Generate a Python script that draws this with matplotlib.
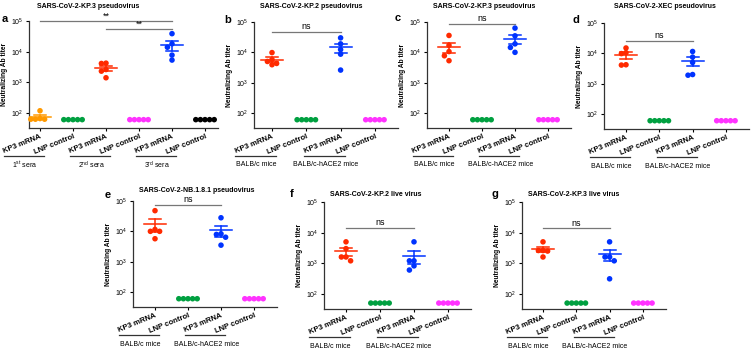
import numpy as np
import matplotlib.pyplot as plt
from matplotlib.transforms import blended_transform_factory

plt.rcParams['font.family'] = ['Liberation Sans', 'DejaVu Sans']
plt.rcParams['mathtext.fontset'] = 'custom'
plt.rcParams['mathtext.rm'] = 'Liberation Sans'

# ---------------- data (titers) ----------------
a_ticklabels = ["KP3 mRNA", "LNP control", "KP3 mRNA", "LNP control", "KP3 mRNA", "LNP control"]
a_groups = ["1$^{\\rm st}$ sera", "2$^{\\rm nd}$ sera", "3$^{\\rm rd}$ sera"]
a_kp3_1st = [117, 65, 62, 62, 62]
a_lnp_1st = [60, 60, 60, 60, 60]
a_kp3_2nd = [4200, 4100, 2600, 2300, 1400]
a_lnp_2nd = [60, 60, 60, 60, 60]
a_kp3_3rd = [38600, 18000, 13900, 7700, 5300]
a_lnp_3rd = [60, 60, 60, 60, 60]

mice_ticklabels = ["KP3 mRNA", "LNP control", "KP3 mRNA", "LNP control"]
mice_groups = ["BALB/c mice", "BALB/c-hACE2 mice"]

b_balbc = [9800, 5800, 5000, 4300, 3900]
b_hace2 = [30000, 19000, 12300, 8700, 2600]
c_balbc = [36000, 17000, 10600, 7700, 5300]
c_hace2 = [63000, 35000, 19000, 14500, 10000]
d_balbc = [15000, 10500, 9800, 4200, 4100]
d_hace2 = [11500, 7500, 5000, 2000, 1900]
e_balbc = [48000, 11500, 10000, 10000, 5700]
e_hace2 = [28000, 8300, 7900, 6400, 3500]
f_balbc = [5000, 3000, 1600, 1600, 1200]
f_hace2 = [5000, 1200, 1200, 820, 600]
g_balbc = [5000, 2600, 2600, 2500, 1600]
g_hace2 = [5000, 1600, 1600, 1200, 310]
pv_lnp = [60, 60, 60, 60, 60]
live_lnp = [50, 50, 50, 50, 50]

titles = ["SARS-CoV-2-KP.3 pseudovirus", "SARS-CoV-2-KP.2 pseudovirus",
          "SARS-CoV-2-KP.3 pseudovirus", "SARS-CoV-2-XEC pseudovirus",
          "SARS-CoV-2-NB.1.8.1 pseudovirus", "SARS-CoV-2-KP.2 live virus",
          "SARS-CoV-2-KP.3 live virus"]
# height of the "ns" bar in panels b-g
ns_levels = [48000, 88000, 26000, 76000, 14500, 13800]
# "**" bars in panel a
a_sig_levels = [100000, 54000]

a_colors = ['#FF9900', '#00A040', '#FF2A00', '#FF33FF', '#0033FF', 'black']
mice_colors = ['#FF2A00', '#00A040', '#0033FF', '#FF33FF']

W, H = 752, 352
fig = plt.figure(figsize=(W / 100, H / 100), dpi=100)


def swarm(vals, xpx, ypx=30.5, d=4.6):
    ys = np.log10(np.array(vals, dtype=float)) * ypx
    offs = np.zeros(len(vals))
    placed = []
    for i in np.argsort(-ys, kind='stable'):
        for k in [0, -1, 1, -2, 2, -3, 3, -4, 4]:
            x = k * d
            if all((x - px) ** 2 + (ys[i] - py) ** 2 >= (d * 0.98) ** 2 for px, py in placed):
                break
        placed.append((x, ys[i]))
        offs[i] = x / xpx
    return offs


def panel(left, top, first, step, ncat, bottom, extra_right, series, colors,
          ticklabels, groups, title, tx, ty, letter, lx, ly):
    right = first + step * (ncat - 1) + extra_right
    ax = fig.add_axes([left / W, 1 - bottom / H, (right - left) / W, (bottom - top) / H])
    ax.set_xlim((left - first) / step, (right - first) / step)
    ax.set_yscale('log')
    ax.set_ylim(32, 1e5)
    ax.set_yticks([1e2, 1e3, 1e4, 1e5])
    ax.minorticks_off()
    for sp in ['top', 'right']:
        ax.spines[sp].set_visible(False)
    for sp in ['left', 'bottom']:
        ax.spines[sp].set_linewidth(0.9)
        ax.spines[sp].set_color('#333333')
    ax.tick_params(axis='y', labelsize=5, length=2.5, width=0.8, pad=1.5)
    ax.tick_params(axis='x', length=2.5, width=0.8, pad=1)
    ax.set_xticks(range(ncat))
    ax.set_xticklabels(ticklabels, rotation=22, ha='right', rotation_mode='anchor',
                       fontsize=5.5, fontweight='bold')
    ax.set_ylabel('Neutralizing Ab titer', fontsize=4.8, fontweight='bold', labelpad=2)

    for i, (vals, col) in enumerate(zip(series, colors)):
        offs = swarm(vals, step)
        ax.scatter(i + offs, vals, s=16, color=col, edgecolors='none', zorder=3, clip_on=False)
        v = np.array(vals, dtype=float)
        sem = v.std(ddof=1) / np.sqrt(len(v))
        if sem > 0:
            m = v.mean()
            hw = 11 / step
            cw = 6 / step
            ax.plot([i - hw, i + hw], [m, m], color=col, lw=1.1, zorder=4)
            ax.plot([i - cw, i + cw], [m + sem, m + sem], color=col, lw=1.1, zorder=4)
            ax.plot([i - cw, i + cw], [m - sem, m - sem], color=col, lw=1.1, zorder=4)
            ax.plot([i, i], [m - sem, m + sem], color=col, lw=1.1, zorder=4)

    tr = blended_transform_factory(ax.transData, ax.transAxes)
    hgt = (bottom - top)
    for j, g in enumerate(groups):
        i = 2 * j
        ax.plot([i - 1.08, i + 0.12], [-28 / hgt, -28 / hgt], color='#333333', lw=0.9,
                transform=tr, clip_on=False)
        ax.text(i - 0.45, -37 / hgt, g, transform=tr, ha='center', va='center', fontsize=5)

    fig.text(tx / W, 1 - ty / H, title, ha='center', va='center',
             fontsize=5, fontweight='bold')
    fig.text(lx / W, 1 - ly / H, letter, ha='center', va='center', fontsize=8, fontweight='bold')
    return ax


def sig_bar(ax, x0, x1, y, label, size):
    ax.plot([x0, x1], [y, y], color='#777777', lw=0.9, clip_on=False)
    ax.annotate(label, xy=((x0 + x1) / 2, y), xytext=(0, 0.3), textcoords='offset points',
                ha='center', va='bottom', fontsize=size, annotation_clip=False)


# panel a
ax = panel(29, 21, 40, 33, 6, 128, 13,
           [a_kp3_1st, a_lnp_1st, a_kp3_2nd, a_lnp_2nd, a_kp3_3rd, a_lnp_3rd],
           a_colors, a_ticklabels, a_groups, titles[0], 88, 6, 'a', 5, 19)
sig_bar(ax, 0, 4, a_sig_levels[0], '**', 6.5)
sig_bar(ax, 2, 4, a_sig_levels[1], '**', 6.5)

# panels b-g
specs = [
    (254, 22, 272, 34.3, 128, b_balbc, pv_lnp, b_hace2, 311, 7, 'b', 228, 20),
    (427, 22, 449, 33, 128, c_balbc, pv_lnp, c_hace2, 484, 7, 'c', 398, 18),
    (604, 23, 626, 33.3, 129, d_balbc, pv_lnp, d_hace2, 665, 7, 'd', 576, 20),
    (133, 201, 155, 33, 307, e_balbc, pv_lnp, e_hace2, 197, 190, 'e', 108, 195),
    (324, 202, 346, 34, 309, f_balbc, live_lnp, f_hace2, 376, 195, 'f', 292, 194),
    (522, 202, 543, 33.3, 309, g_balbc, live_lnp, g_hace2, 574, 195, 'g', 495, 194),
]
for k, (lf, tp, first, step, bt, s1, s2, s3, tx, ty, let, lx, ly) in enumerate(specs):
    ax = panel(lf, tp, first, step, 4, bt, 23, [s1, s2, s3, s2], mice_colors,
               mice_ticklabels, mice_groups, titles[k + 1], tx, ty, let, lx, ly)
    sig_bar(ax, 0, 2, ns_levels[k], 'ns', 6.5)

fig.savefig('out.png', dpi=100)
